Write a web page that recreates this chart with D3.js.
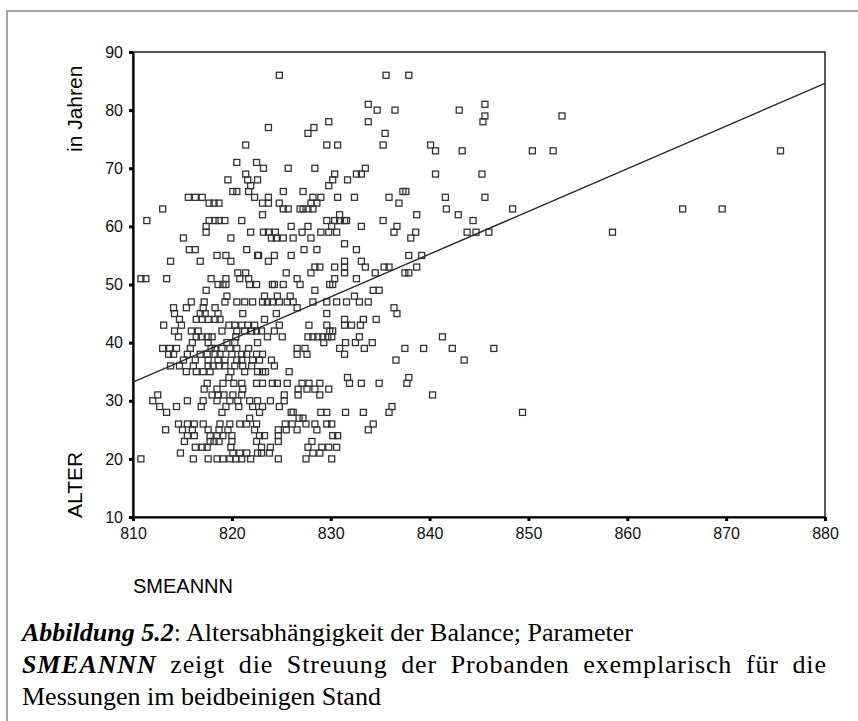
<!DOCTYPE html>
<html>
<head>
<meta charset="utf-8">
<script src="https://cdn.jsdelivr.net/npm/d3@7"></script>
<style>
  body { margin: 0; background: #fff; }
  svg { display: block; }
</style>
</head>
<body>
<div id="chart"></div>
<script>
const alter = [86, 81, 80, 79, 78, 77, 76, 74, 73, 71, 70, 69, 68, 67, 66, 65, 64, 63, 62, 61,
  60, 59, 58, 57, 56, 55, 54, 53, 52, 51, 50, 49, 48, 47, 46, 45, 44, 43, 42, 41,
  40, 39, 38, 37, 36, 35, 34, 33, 32, 31, 30, 29, 28, 27, 26, 25, 24, 23, 22, 21, 20];

const smeannn = [
  [824.8, 835.6, 837.9],
  [833.8, 845.6],
  [834.7, 836.5, 843.0],
  [845.6, 853.4],
  [829.8, 833.8, 845.4],
  [823.7, 828.3],
  [827.7, 835.5],
  [821.4, 829.6, 830.7, 835.3, 840.1],
  [840.6, 843.3, 850.4, 852.5, 875.5],
  [820.5, 822.5],
  [823.2, 825.7, 828.4, 833.5],
  [821.4, 830.4, 832.6, 833.1, 840.6, 845.3],
  [819.6, 821.6, 822.6, 830.2, 831.7],
  [821.9, 829.8],
  [820.1, 820.5, 821.7, 825.2, 827.2, 837.3, 837.6],
  [815.6, 816.3, 817.0, 822.3, 823.7, 828.2, 829.0, 830.7, 832.4, 835.9, 841.6, 845.6],
  [817.7, 818.2, 818.7, 823.1, 823.7, 824.8, 828.0, 828.6, 836.9],
  [813.0, 825.2, 825.7, 826.9, 827.2, 827.7, 828.2, 841.7, 848.4, 865.6, 869.6],
  [823.1, 830.9, 838.7, 842.9],
  [811.4, 817.7, 818.3, 818.7, 819.3, 821.0, 829.6, 830.4, 830.9, 831.4, 831.6, 835.3, 844.4],
  [817.4, 826.0, 827.7, 830.1, 833.1, 836.7],
  [817.4, 821.9, 823.2, 823.7, 824.4, 827.1, 829.0, 829.8, 830.6, 836.4, 838.6, 843.8, 844.7, 846.0, 858.5],
  [815.1, 819.9, 824.0, 824.5, 825.2, 826.2, 828.0, 838.1],
  [831.4],
  [815.7, 816.3, 821.5, 827.3, 828.6, 832.6],
  [818.5, 819.4, 822.6, 822.7, 824.3, 826.0, 837.9, 839.2],
  [813.8, 816.8, 819.9, 823.7, 831.4, 833.1],
  [828.4, 828.9, 830.4, 831.4, 833.5, 835.4, 835.9, 838.7],
  [820.6, 821.4, 825.5, 828.0, 831.4, 834.5, 837.5, 837.9],
  [810.8, 811.3, 813.4, 817.9, 819.4, 820.8, 821.7, 826.6, 830.4, 832.6],
  [818.6, 819.1, 819.4, 821.8, 822.5, 824.1, 824.3, 825.2, 826.9, 829.9, 830.2],
  [817.4, 828.4, 834.3, 834.9],
  [819.5, 823.3, 824.6, 825.9, 832.4],
  [815.9, 817.2, 819.3, 820.5, 821.3, 822.1, 823.1, 823.6, 824.1, 824.8, 825.6, 826.2, 828.2, 829.6, 830.6, 831.6, 832.9, 833.8],
  [814.1, 815.4, 817.1, 818.3, 826.6, 836.4],
  [814.2, 816.8, 817.3, 818.6, 821.1, 824.5, 829.6, 836.7],
  [814.7, 816.4, 817.0, 817.6, 818.3, 818.8, 823.3, 831.4, 833.3, 834.6],
  [813.1, 814.9, 819.7, 820.3, 821.0, 821.6, 822.3, 824.8, 827.8, 829.6, 831.4, 832.1, 833.0],
  [814.2, 815.9, 816.6, 819.0, 820.5, 821.3, 822.0, 822.5, 823.0, 824.3, 829.9, 830.2],
  [814.6, 816.4, 816.9, 817.6, 818.0, 820.4, 823.6, 825.1, 827.7, 828.2, 828.7, 829.2, 829.7, 830.1, 832.9, 841.3],
  [816.0, 817.6, 819.5, 820.3, 822.6, 829.3, 831.5, 832.5, 834.2],
  [813.0, 813.7, 814.4, 815.8, 817.9, 818.3, 819.0, 819.8, 820.5, 821.7, 826.6, 827.4, 830.9, 833.4, 837.5, 839.4, 842.3, 846.5],
  [813.6, 814.1, 815.5, 816.8, 817.5, 818.3, 818.8, 820.0, 821.0, 821.5, 822.5, 823.1, 826.6, 827.6, 831.4],
  [815.1, 816.3, 817.6, 818.6, 819.3, 820.5, 821.0, 822.1, 822.8, 824.0, 836.6, 843.5],
  [813.8, 814.7, 816.1, 817.6, 818.1, 818.7, 819.3, 820.3, 821.1, 822.0, 824.3],
  [815.4, 816.4, 817.1, 817.8, 819.9, 821.3, 822.6, 823.1, 823.4, 825.8],
  [819.7, 831.7, 837.9],
  [817.5, 819.1, 820.2, 821.0, 822.5, 823.1, 824.1, 824.6, 825.6, 827.1, 827.8, 828.9, 831.9, 833.1, 834.9, 837.7],
  [817.2, 818.5, 821.1, 826.7, 827.6, 828.4, 829.8],
  [812.5, 818.0, 818.6, 819.2, 820.1, 821.0, 825.3, 826.7, 828.9, 840.3],
  [812.0, 815.5, 817.1, 818.5, 819.8, 820.6, 821.8, 822.6, 823.9, 825.3],
  [812.7, 814.4, 816.9, 819.4, 820.7, 822.1, 823.1, 824.8, 836.2],
  [813.4, 819.0, 822.8, 826.0, 826.2, 829.0, 829.6, 831.5, 833.3, 835.9, 849.4],
  [821.8, 826.8, 827.2],
  [814.6, 815.5, 816.2, 817.1, 818.8, 819.8, 820.8, 821.5, 822.5, 825.4, 826.1, 827.5, 828.4, 829.6, 830.1, 834.3],
  [813.3, 815.0, 816.0, 817.6, 818.7, 819.6, 822.3, 824.7, 825.5, 826.6, 828.6, 833.8],
  [815.5, 816.2, 817.8, 818.5, 819.1, 820.0, 822.8, 823.3, 824.7, 830.2, 830.7],
  [815.2, 817.8, 818.2, 818.7, 820.0, 822.5, 824.7, 828.1],
  [816.3, 817.0, 817.5, 819.9, 823.0, 823.9, 827.7, 829.1, 829.8, 830.6],
  [814.8, 820.1, 820.8, 821.5, 822.6, 823.0, 823.8, 828.2, 828.9],
  [810.8, 816.1, 817.6, 818.5, 819.1, 819.8, 820.4, 821.0, 821.9, 824.7, 827.5, 830.1]
];

// fit line (linear regression as shown)
const fitX = [810, 880];
const fitY = [33.2, 84.6];

const xTicks = [810, 820, 830, 840, 850, 860, 870, 880];
const yTicks = [10, 20, 30, 40, 50, 60, 70, 80, 90];

// caption lines: [text, bold-italic], second line is justified in the original
const captionLines = [
  [["Abbildung 5.2", true], [": Altersabhängigkeit der Balance; Parameter", false]],
  [["SMEANNN", true], [" zeigt die Streuung der Probanden exemplarisch für die", false]],
  [["Messungen im beidbeinigen Stand", false]]
];

// flatten rows into points
const points = [];
alter.forEach((a, i) => smeannn[i].forEach(v => points.push({ x: v, y: a })));

const W = 858, H = 721;
const plot = { left: 133, right: 825, top: 52, bottom: 517 };

const svg = d3.select("#chart").append("svg")
  .attr("width", W)
  .attr("height", H);

// grey outer frame (only top and left visible)
svg.append("path")
  .attr("d", `M7,${H} V11 H${W}`)
  .attr("fill", "none")
  .attr("stroke", "#a3a3a3")
  .attr("stroke-width", 2);

const x = d3.scaleLinear().domain([810, 880]).range([plot.left, plot.right]);
const y = d3.scaleLinear().domain([10, 90]).range([plot.bottom, plot.top]);

// plot frame
svg.append("rect")
  .attr("x", plot.left)
  .attr("y", plot.top)
  .attr("width", plot.right - plot.left)
  .attr("height", plot.bottom - plot.top)
  .attr("fill", "none")
  .attr("stroke", "#222")
  .attr("stroke-width", 1.5);

// axes
const yAxis = svg.append("g")
  .attr("transform", `translate(${plot.left},0)`)
  .call(d3.axisLeft(y).tickValues(yTicks).tickSize(4).tickPadding(6).tickSizeOuter(0));
const xAxis = svg.append("g")
  .attr("transform", `translate(0,${plot.bottom})`)
  .call(d3.axisBottom(x).tickValues(xTicks).tickSize(4).tickPadding(7).tickSizeOuter(0));

[xAxis, yAxis].forEach(g => {
  g.select(".domain").attr("stroke", "#000").attr("stroke-width", 2.2);
  g.selectAll(".tick line").attr("stroke", "#000").attr("stroke-width", 3);
  g.selectAll(".tick text")
    .attr("fill", "#111")
    .style("font-family", "'Liberation Sans', Arial, sans-serif")
    .style("font-size", "16px");
});

// scatter squares
svg.append("g")
  .selectAll("rect")
  .data(points)
  .join("rect")
  .attr("x", d => x(d.x) - 3)
  .attr("y", d => y(d.y) - 3)
  .attr("width", 6)
  .attr("height", 6)
  .attr("fill", "none")
  .attr("stroke", "#333")
  .attr("stroke-width", 1.3);

// regression line
svg.append("line")
  .attr("x1", x(fitX[0]))
  .attr("y1", y(fitY[0]))
  .attr("x2", x(fitX[1]))
  .attr("y2", y(fitY[1]))
  .attr("stroke", "#2a2a2a")
  .attr("stroke-width", 1.4);

// axis titles
const titleFont = "'Liberation Sans', Arial, sans-serif";
svg.append("text")
  .attr("transform", "translate(82,152) rotate(-90)")
  .style("font-family", titleFont)
  .style("font-size", "21px")
  .text("in Jahren");
svg.append("text")
  .attr("transform", "translate(82,518) rotate(-90)")
  .style("font-family", titleFont)
  .style("font-size", "21px")
  .text("ALTER");
svg.append("text")
  .attr("x", 133)
  .attr("y", 593)
  .style("font-family", titleFont)
  .style("font-size", "20px")
  .text("SMEANNN");

// caption
const capLeft = 22, capRight = 826;
const cap = svg.append("g")
  .style("font-family", "'Liberation Serif', 'Times New Roman', serif")
  .style("font-size", "26px");
captionLines.forEach((line, i) => {
  const t = cap.append("text").attr("x", capLeft).attr("y", 641 + i * 32);
  line.forEach(([s, bold]) => {
    t.append("tspan")
      .style("font-weight", bold ? "bold" : "normal")
      .style("font-style", bold ? "italic" : "normal")
      .text(s);
  });
  // the middle line runs to the right margin: half the stretch in the word gaps,
  // the rest spread over the letters
  if (i === 1) {
    const natural = t.node().getComputedTextLength();
    const gaps = (line.map(d => d[0]).join("").match(/ /g) || []).length;
    t.style("word-spacing", ((capRight - capLeft - natural) * 0.5 / gaps) + "px");
    t.attr("textLength", capRight - capLeft).attr("lengthAdjust", "spacing");
  }
});
</script>
</body>
</html>
